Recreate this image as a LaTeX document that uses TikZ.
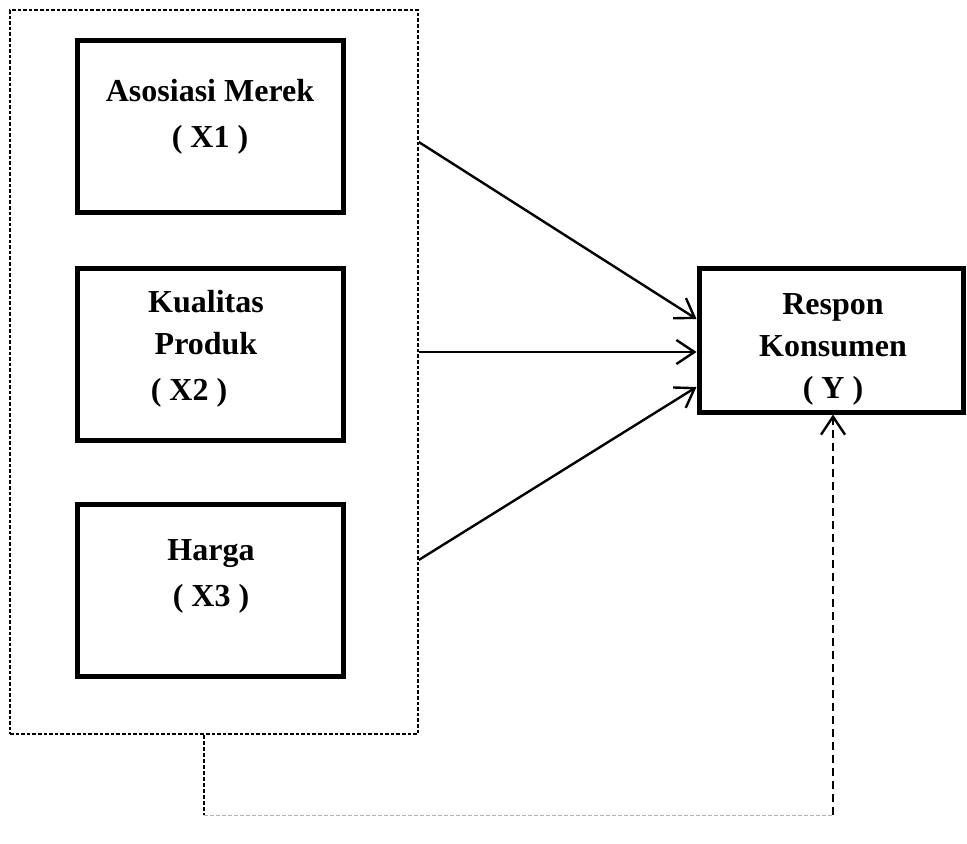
\documentclass[tikz,border=0pt]{standalone}
\usepackage{fontspec}
\setmainfont{Liberation Serif}
\usetikzlibrary{arrows.meta,calc}

\begin{document}
\begin{tikzpicture}[
    x=0.5pt, y=-0.5pt,
    kotak/.style={rectangle, draw=black, line width=2.5pt, minimum width=133pt,
                  minimum height=86pt, inner sep=0pt},
    teks/.style={align=center, font=\fontsize{16}{21}\selectfont\bfseries, inner sep=0pt},
    bingkai/.style={rectangle, draw=black, line width=0.75pt, dash pattern=on 1.8pt off 1pt,
                    minimum width=204pt, minimum height=362pt, inner sep=0pt},
    arr/.style={-{Straight Barb[length=9pt,width=12pt]}, line width=1.2pt},
    balik/.style={dash pattern=on 2pt off 1pt, line width=0.8pt},
    balikpanah/.style={-{Straight Barb[length=9pt,width=12pt]}, dash pattern=on 4pt off 2.5pt, line width=1.2pt}
]
\useasboundingbox (0,0) rectangle (967,844);

% variabel bebas
\node[bingkai] (grup) at (214,372) {};
\node[kotak] (asosiasi) at (210,127) {};
\node[kotak] (kualitas) at (210,354.5) {};
\node[kotak] (harga) at (210,590) {};
\node[teks] (tasosiasi) at (210,117) {Asosiasi Merek\\[2pt]( X1 )};
\node[teks] (tkualitas) at (206,349) {Kualitas\\Produk\\[2pt]( X2 )\hspace*{17pt}};
\node[teks] (tharga) at (211,576) {Harga\\[2pt]( X3 )};

% variabel terikat
\node[kotak, minimum width=132pt, minimum height=71.5pt] (respon) at (831,340.5) {};
\node[teks] (trespon) at (833,349) {Respon\\Konsumen\\( Y )};

\coordinate (sudutkiri) at (204,815);
\coordinate (sudutkanan) at (833,815);

\draw[arr] (grup.east |- 0,142) -- (respon.west |- 0,319);
\draw[arr] (grup.east |- 0,352) -- (respon.west |- 0,352);
\draw[arr] (grup.east |- 0,560) -- (respon.west |- 0,387);
\draw[balik] (grup.south -| sudutkiri) -- (sudutkiri);
\draw[balik, gray!60, line width=0.5pt] (sudutkiri) -- (sudutkanan);
\draw[balikpanah] (sudutkanan) -- (respon.south -| sudutkanan);
\end{tikzpicture}
\end{document}
